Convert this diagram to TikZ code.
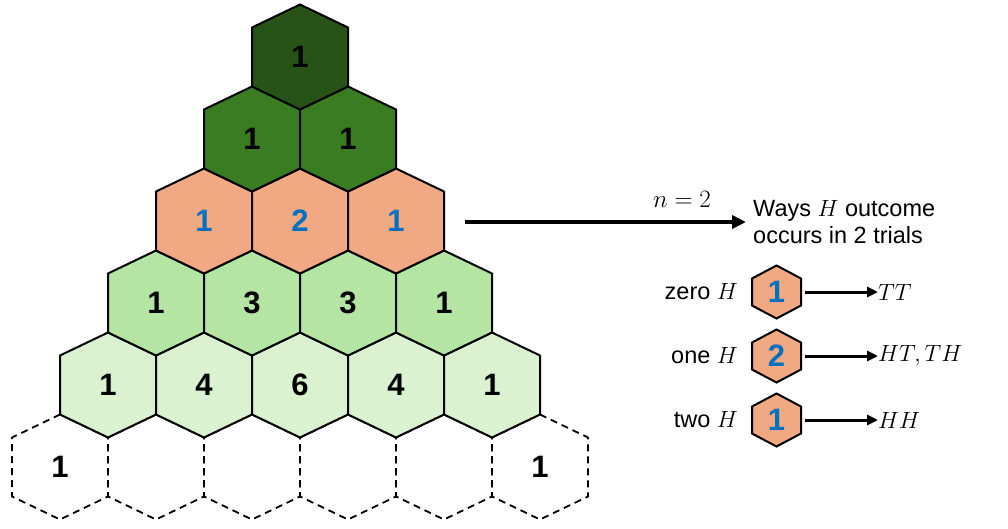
\RequirePackage{fix-cm}
\documentclass[tikz,border=0pt]{standalone}
\usepackage{fontspec}
\setmainfont{Liberation Sans}
\usetikzlibrary{arrows.meta}
\definecolor{gA}{HTML}{275317}
\definecolor{gB}{HTML}{3A7C22}
\definecolor{sal}{HTML}{F1A983}
\definecolor{gC}{HTML}{B4E5A2}
\definecolor{gD}{HTML}{DAF2D0}
\definecolor{numblue}{HTML}{0070C0}
\tikzset{
  bighex/.pic={\path[pic actions] (0,-52.5) -- (48,-29.5) -- (48,29.5) -- (0,52.5) -- (-48,29.5) -- (-48,-29.5) -- cycle;},
  smallhex/.pic={\path[pic actions] (0,-26.5) -- (24.5,-13.5) -- (24.5,13.5) -- (0,26.5) -- (-24.5,13.5) -- (-24.5,-13.5) -- cycle;},
  hexline/.style={draw=black, line width=2pt, line join=miter},
  ghost/.style={draw=black, line width=1.8pt, dash pattern=on 7pt off 5pt},
  num/.style={font=\fontsize{31}{36}\selectfont\bfseries, inner sep=0pt},
  bnum/.style={num, text=numblue},
  lbl/.style={font=\fontsize{23.5}{28}\selectfont, inner sep=0pt},
  bigarrow/.style={line width=3.5pt, -{Triangle[length=14pt,width=13pt]}},
  smallarrow/.style={line width=3pt, -{Triangle[length=11pt,width=10pt]}},
}
\begin{document}
\begin{tikzpicture}[x=1pt, y=-1pt]
\useasboundingbox (0,0) rectangle (1008,528);
% dashed row
\foreach \x in {60,156,...,540} \pic[ghost] at (\x,467) {bighex};
\node[num] (r5c0) at (60,467) {1};
\node[num] (r5c5) at (540,467) {1};
% row 4
\foreach \x in {108,204,...,492} \pic[hexline, fill=gD] at (\x,385) {bighex};
% row 3
\foreach \x in {156,252,...,444} \pic[hexline, fill=gC] at (\x,303) {bighex};
% row 2
\foreach \x in {204,300,396} \pic[hexline, fill=sal] at (\x,221) {bighex};
% row 1
\foreach \x in {252,348} \pic[hexline, fill=gB] at (\x,139) {bighex};
% row 0
\pic[hexline, fill=gA] at (300,57) {bighex};
% numbers
\node[num] (r0c0) at (300,57) {1};
\node[num] (r1c0) at (252,139) {1};
\node[num] (r1c1) at (348,139) {1};
\node[bnum] (r2c0) at (204,221) {1};
\node[bnum] (r2c1) at (300,221) {2};
\node[bnum] (r2c2) at (396,221) {1};
\node[num] (r3c0) at (156,303) {1};
\node[num] (r3c1) at (252,303) {3};
\node[num] (r3c2) at (348,303) {3};
\node[num] (r3c3) at (444,303) {1};
\node[num] (r4c0) at (108,385) {1};
\node[num] (r4c1) at (204,385) {4};
\node[num] (r4c2) at (300,385) {6};
\node[num] (r4c3) at (396,385) {4};
\node[num] (r4c4) at (492,385) {1};
% main arrow and explanation
\coordinate (astart) at (465,222);
\coordinate (aend) at (746,222);
\draw[bigarrow] (astart) -- (aend);
\node[font=\fontsize{25}{30}\selectfont, inner sep=0pt] (nlabel) at (682,199) {$n=2$};
\node[lbl, anchor=west, align=left] (ways) at (753,222) {Ways $H$ outcome\\[-1pt]occurs in 2 trials};
% small hexes
\foreach \y in {292,356,420} \pic[hexline, fill=sal] at (776.5,\y) {smallhex};
\node[bnum] (s0) at (776.5,292) {1};
\node[bnum] (s1) at (776.5,356) {2};
\node[bnum] (s2) at (776.5,420) {1};
\node[lbl, anchor=east] (l0) at (738,292) {zero $H$};
\node[lbl, anchor=east] (l1) at (738,356) {one $H$};
\node[lbl, anchor=east] (l2) at (738,420) {two $H$};
\coordinate (b0) at (805,292);
\coordinate (b1) at (805,356);
\coordinate (b2) at (805,420);
\node[lbl, anchor=west] (o0) at (878,292) {$TT$};
\node[lbl, anchor=west] (o1) at (878,356) {$HT,TH$};
\node[lbl, anchor=west] (o2) at (878,420) {$HH$};
\draw[smallarrow] (b0) -- (o0.west);
\draw[smallarrow] (b1) -- (o1.west);
\draw[smallarrow] (b2) -- (o2.west);
\end{tikzpicture}
\end{document}
